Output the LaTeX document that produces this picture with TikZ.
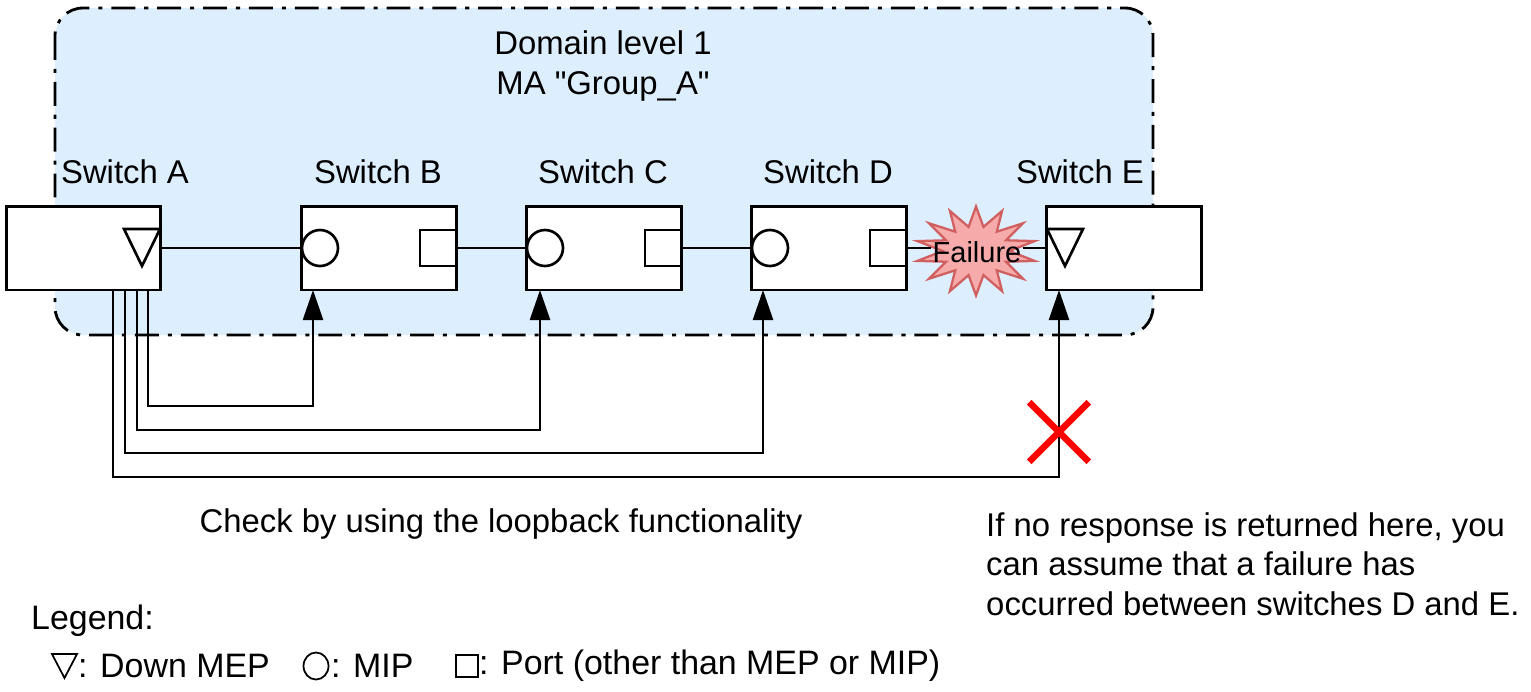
\documentclass[tikz,border=0pt]{standalone}
\usepackage{fontspec}
\setmainfont{Liberation Sans}[Ligatures=TeXOff]
\usetikzlibrary{shapes.geometric,shapes.misc,arrows.meta}
\definecolor{domainblue}{RGB}{221,238,255}
\definecolor{burstfill}{RGB}{246,170,170}
\definecolor{burstdraw}{RGB}{208,96,96}
\begin{document}
\begin{tikzpicture}[x=0.02cm, y=-0.02cm, line width=1.4pt,
	every node/.style={font=\fontsize{18.7}{22.4}\selectfont},
	switch/.style={rectangle, draw, fill=white, line width=1.7pt,
	minimum width=3.1cm, minimum height=1.68cm},
	mip/.style={circle, draw, fill=white, line width=1.5pt,
	minimum size=0.72cm, inner sep=0pt},
	port/.style={rectangle, draw, fill=white, line width=1.5pt,
	minimum size=0.72cm, inner sep=0pt},
	mep/.style={draw, fill=white, line width=1.5pt, line join=miter},
	lbpath/.style={-{Triangle[length=0.6cm,width=0.4cm]}},
	mabox/.style={draw, fill=domainblue, line width=1.6pt,
	rounded corners=0.56cm,
	dash pattern=on 13.6pt off 5.1pt on 2.3pt off 5.1pt},
	burst/.style={star, star points=14, star point ratio=1.8,
	draw=burstdraw, fill=burstfill, line width=1.3pt,
	minimum size=1.78cm, inner sep=0pt, transform shape, xscale=1.35},
	nogo/.style={cross out, draw=red, line width=3.8pt,
	minimum size=1.06cm, inner sep=0pt},
	lgsym/.style={draw, line width=1pt, inner sep=0pt},
	lgtext/.style={anchor=west, inner sep=0pt,
	font=\fontsize{19.3}{22.4}\selectfont}]

	\useasboundingbox (0,0) rectangle (1531,691);

	% domain of MA Group_A
	\draw[mabox] (55,8) rectangle (1153,335);
	\node [align=center] (dom_title) at (603,66)
	{Domain level 1\\MA "Group\_A"};

	\node (lbl_a) at (125,172) {Switch A};
	\node (lbl_b) at (378,172) {Switch B};
	\node (lbl_c) at (603,172) {Switch C};
	\node (lbl_d) at (828,172) {Switch D};
	\node (lbl_e) at (1080,172) {Switch E};

	\node [switch] (sw_a) at (83.5,248) {};
	\node [switch] (sw_b) at (379,248) {};
	\node [switch] (sw_c) at (604,248) {};
	\node [switch] (sw_d) at (829,248) {};
	\node [switch] (sw_e) at (1124,248) {};

	\draw [mep] (124,229) -- (160,229) -- (142,266) -- cycle;
	\draw [mep] (1047,229) -- (1083,229) -- (1065,266) -- cycle;

	\node [mip] (mip_b) at (320,248) {};
	\node [mip] (mip_c) at (545,248) {};
	\node [mip] (mip_d) at (770,248) {};
	\node [port] (port_b) at (438,248) {};
	\node [port] (port_c) at (663,248) {};
	\node [port] (port_d) at (888,248) {};

	\draw (sw_a.east) -- (mip_b.west);
	\draw (port_b.east) -- (mip_c.west);
	\draw (port_c.east) -- (mip_d.west);

	% failure between D and E
	\node [burst] (fail) at (976,251) {};
	\node [inner sep=0pt, font=\fontsize{16.5}{20}\selectfont] (fail_lbl) at (977,252) {Failure};
	\draw (port_d.east) -- (port_d.east -| fail_lbl.west);
	\draw (sw_e.west -| fail_lbl.east) -- (sw_e.west);

	% loopback from switch A
	\coordinate (tx_b) at (148,290);
	\coordinate (tx_c) at (137,290);
	\coordinate (tx_d) at (125,290);
	\coordinate (tx_e) at (113,290);
	\coordinate (rx_b) at (313,290);
	\coordinate (rx_c) at (540,290);
	\coordinate (rx_d) at (763,290);
	\coordinate (rx_e) at (1059,290);
	\draw [lbpath] (tx_b) -- ++(0,116) -| (rx_b);
	\draw [lbpath] (tx_c) -- ++(0,140) -| (rx_c);
	\draw [lbpath] (tx_d) -- ++(0,163) -| (rx_d);
	\draw [lbpath] (tx_e) -- ++(0,187) -| (rx_e);

	\node [nogo] (no_reply) at (1059,432) {};

	\node (lb_caption) at (501,524) {Check by using the loopback functionality};
	\node [align=left, anchor=west, inner sep=0pt] (fail_note) at (985,564)
	{If no response is returned here, you\\can assume that a failure has\\occurred between switches D and E.};

	% legend
	\node [lgtext] (lg_title) at (30,621) {Legend:};
	\draw [lgsym] (52,654) -- (77,654) -- (64.5,678) -- cycle;
	\node [lgtext] (lg_mep) at (77,666) {: Down MEP};
	\node [lgsym, ellipse, minimum width=0.5cm, minimum height=0.54cm] (lg_mip_sym) at (316,666) {};
	\node [lgtext] (lg_mip) at (330,666) {: MIP};
	\node [lgsym, minimum size=0.44cm] (lg_port_sym) at (467,666) {};
	\node [lgtext] (lg_port) at (478,666) {: Port (other than MEP or MIP)};
\end{tikzpicture}
\end{document}
